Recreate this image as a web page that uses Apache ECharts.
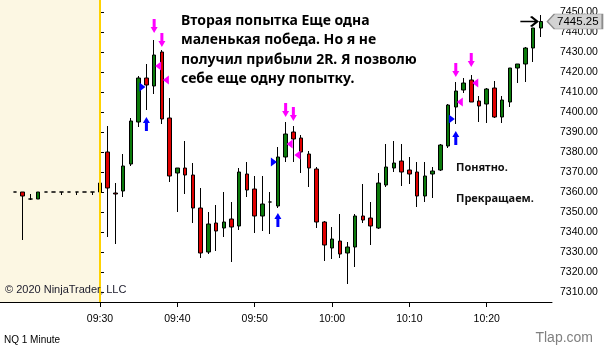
<!DOCTYPE html>
<html>
<head>
<meta charset="utf-8">
<title>NQ 1 Minute</title>
<script src="https://cdn.jsdelivr.net/npm/echarts@6/dist/echarts.min.js"></script>
<style>
    html, body { margin: 0; padding: 0; background: #fff; }
    #chart { width: 606px; height: 350px; }
</style>
</head>
<body>
<div id="chart"></div>
<script>
// 1 minute bars, NQ
const times = [
    '09:19', '09:20', '09:21', '09:22', '09:23', '09:24', '09:25', '09:26', '09:27', '09:28', '09:29',
    '09:30', '09:31', '09:32', '09:33', '09:34', '09:35', '09:36', '09:37', '09:38', '09:39',
    '09:40', '09:41', '09:42', '09:43', '09:44', '09:45', '09:46', '09:47', '09:48', '09:49',
    '09:50', '09:51', '09:52', '09:53', '09:54', '09:55', '09:56', '09:57', '09:58', '09:59',
    '10:00', '10:01', '10:02', '10:03', '10:04', '10:05', '10:06', '10:07', '10:08', '10:09',
    '10:10', '10:11', '10:12', '10:13', '10:14', '10:15', '10:16', '10:17', '10:18', '10:19',
    '10:20', '10:21', '10:22', '10:23', '10:24', '10:25', '10:26', '10:27'
];
const opens = [
    7360, 7360, 7356.5, 7356.5, 7360, 7360, 7360, 7360, 7360, 7360, 7360,
    7360, 7380, 7359.5, 7360.5, 7374, 7395, 7417, 7413, 7430, 7397,
    7369.5, 7372, 7368.5, 7352, 7330, 7344.5, 7342, 7346.5, 7343, 7369,
    7361.5, 7348, 7355, 7353, 7377.5, 7390, 7387, 7379, 7371.5, 7345,
    7332, 7335.5, 7329.5, 7332.5, 7348, 7347, 7342, 7363.5, 7372, 7375.5,
    7371, 7370, 7358, 7369, 7371, 7383, 7402.5, 7411, 7416, 7405.5,
    7404, 7412, 7397.5, 7405, 7422, 7424, 7432, 7442
];
const closes = [
    7360, 7358, 7356.5, 7360, 7360, 7360, 7360, 7360, 7360, 7360, 7360,
    7364.5, 7362, 7359, 7373, 7395.5, 7417, 7413.5, 7428.5, 7396.5, 7368,
    7372, 7368.5, 7352, 7329.5, 7344, 7340.5, 7345, 7342.5, 7370, 7361,
    7348, 7354, 7355, 7377.5, 7389, 7386.5, 7380, 7372, 7345, 7333.5,
    7336.5, 7329, 7332.5, 7348, 7346, 7343, 7364.5, 7372.5, 7374.5, 7370,
    7369, 7358, 7368, 7370.5, 7383.5, 7403.5, 7410.5, 7414.5, 7405, 7403,
    7411.5, 7397.5, 7406, 7422, 7424, 7432, 7442, 7445.25
];
const lows = [
    7360, 7336, 7356, 7356.5, 7360, 7360, 7358.5, 7360, 7358.5, 7360, 7358.5,
    7359.5, 7337.5, 7334, 7357.5, 7373, 7392.5, 7401, 7409, 7394, 7365,
    7350, 7359, 7344.5, 7327, 7329, 7330.5, 7337.5, 7325, 7341, 7357.5,
    7339.5, 7340.5, 7339, 7352, 7375, 7375, 7369.5, 7362.5, 7342, 7325.5,
    7326.5, 7327, 7314, 7322.5, 7344.5, 7333.5, 7341.5, 7362.5, 7370, 7363,
    7364, 7352.5, 7355, 7357, 7370.5, 7382, 7394, 7409.5, 7405, 7395,
    7394.5, 7397, 7394.5, 7402.5, 7414.5, 7415, 7425, 7437.5
];
const highs = [
    7360, 7360, 7359, 7360, 7360, 7360, 7360, 7360, 7360, 7360, 7360,
    7372, 7393, 7364.5, 7379, 7397, 7418, 7424, 7436, 7431, 7407,
    7372, 7385.5, 7374.5, 7362, 7350, 7353.5, 7360, 7355, 7372, 7375,
    7368, 7368, 7360, 7382.5, 7395, 7393, 7388.5, 7380.5, 7372.5, 7345.5,
    7342.5, 7349, 7335, 7349, 7364, 7355, 7369.5, 7384, 7385.5, 7384,
    7377.5, 7375, 7375, 7372.5, 7384, 7404, 7415, 7417, 7418.5, 7408,
    7412, 7415.5, 7408, 7422, 7424, 7432.5, 7442, 7448.5
];
const lastPrice = 7445.25;

const xTickLabels = ['09:30', '09:40', '09:50', '10:00', '10:10', '10:20'];
const yTicks = [7310, 7320, 7330, 7340, 7350, 7360, 7370, 7380, 7390, 7400, 7410, 7420, 7430, 7440, 7450];

// сделки: сигналы и исполнения
const entrySignalTimes = ['09:36', '09:53', '10:16'];
const entrySignalPrices = [7394, 7346, 7387];
const entryFillTimes = ['09:36', '09:53', '10:16'];
const entryFillPrices = [7412.5, 7375, 7396.5];
const exitSignalTimes = ['09:37', '09:38', '09:54', '09:55', '10:16', '10:18'];
const exitSignalPrices = [7443, 7436, 7401, 7399, 7421, 7426];
const exitFillTimes = ['09:37', '09:38', '09:54', '09:55', '10:16', '10:18'];
const exitFillPrices = [7423, 7416, 7384, 7378.5, 7405, 7414.5];

const noteLines = [
    'Вторая попытка Еще одна',
    'маленькая победа. Но я не',
    'получил прибыли 2R. Я позволю',
    'себе еще одну попытку.'
];

// minutes from the 09:30 open
function toMin(t) {
    const p = t.split(':');
    return +p[0] * 60 + +p[1] - 570;
}
function toTime(m) {
    const total = 570 + m;
    const h = Math.floor(total / 60), mm = total % 60;
    return String(h).padStart(2, '0') + ':' + String(mm).padStart(2, '0');
}

const candles = times.map((t, i) => [toMin(t), opens[i], closes[i], lows[i], highs[i]]);
const pairs = (ts, ps) => ts.map((t, i) => [toMin(t), ps[i]]);

const downArrow = 'path://M2,0 L5,0 L5,8 L7,8 L3.5,14 L0,8 L2,8 Z';
const upArrow = 'path://M3.5,0 L7,6 L5,6 L5,14 L2,14 L2,6 L0,6 Z';
const labelFont = '"Liberation Sans", Arial, sans-serif';

const chart = echarts.init(document.getElementById('chart'));

const option = {
    animation: false,
    backgroundColor: '#fff',
    grid: { left: 0, right: 54, top: 0, bottom: 48 },
    xAxis: {
        type: 'value',
        min: -12.93,
        max: 58.44,
        splitLine: { show: false },
        axisLine: { lineStyle: { color: '#000', width: 1 } },
        axisTick: { customValues: xTickLabels.map(toMin), length: 5, lineStyle: { color: '#000' } },
        axisLabel: {
            customValues: xTickLabels.map(toMin),
            formatter: v => toTime(v),
            color: '#000',
            fontFamily: labelFont,
            fontSize: 10.5,
            margin: 12
        }
    },
    yAxis: {
        type: 'value',
        position: 'right',
        min: 7305,
        max: 7456,
        splitLine: { show: false },
        axisLine: { show: true, lineStyle: { color: '#000', width: 1 } },
        axisTick: { show: true, customValues: yTicks, length: 4, lineStyle: { color: '#000' } },
        axisLabel: {
            customValues: yTicks,
            formatter: v => v.toFixed(2),
            color: '#000',
            fontFamily: labelFont,
            fontSize: 10.5,
            margin: 8
        }
    },
    series: [
        {
            // premarket background + session open line
            type: 'line',
            data: [],
            z: 1,
            silent: true,
            markArea: {
                silent: true,
                itemStyle: { color: '#FCF7E3' },
                data: [[{ xAxis: -12.93 }, { xAxis: 0 }]]
            },
            markLine: {
                silent: true,
                symbol: 'none',
                label: { show: false },
                lineStyle: { color: '#FFD200', width: 2, type: 'solid' },
                data: [{ xAxis: 0 }]
            }
        },
        {
            type: 'candlestick',
            z: 3,
            data: candles,
            encode: { x: 0, y: [1, 2, 3, 4] },
            barWidth: 4,
            itemStyle: {
                color: '#0B7A0B',
                color0: '#E00000',
                borderColor: '#000',
                borderColor0: '#000',
                borderColorDoji: '#000',
                borderWidth: 1
            },
            markPoint: {
                silent: true,
                data: [
                    {
                        // price marker on the axis
                        coord: [toMin(times[times.length - 1]), lastPrice],
                        symbol: 'path://M0,7 L7,0 L55,0 L55,14 L7,14 Z',
                        symbolSize: [55, 15],
                        symbolOffset: [34, 0],
                        itemStyle: { color: '#D3D3D3', borderColor: '#8c8c8c', borderWidth: 1 },
                        label: {
                            show: true,
                            position: 'inside',
                            offset: [3, 0],
                            formatter: lastPrice.toFixed(2),
                            color: '#000',
                            fontFamily: labelFont,
                            fontSize: 11.5
                        }
                    },
                    {
                        coord: [toMin(times[times.length - 1]), lastPrice],
                        symbol: 'path://M0,5 L16,5 M10,0 L16,5 L10,10',
                        symbolSize: [17, 10],
                        symbolOffset: [-12, 0],
                        itemStyle: { color: 'none', borderColor: '#000', borderWidth: 2 },
                        label: { show: false }
                    }
                ]
            }
        },
        {
            type: 'scatter', z: 4, silent: true,
            data: pairs(entrySignalTimes, entrySignalPrices),
            symbol: upArrow, symbolSize: [7, 14],
            itemStyle: { color: '#0000FF', opacity: 1 }
        },
        {
            type: 'scatter', z: 4, silent: true,
            data: pairs(entryFillTimes, entryFillPrices),
            symbol: 'triangle', symbolSize: [9, 6], symbolRotate: -90, symbolOffset: [-4, 0],
            itemStyle: { color: '#0000FF', opacity: 1 }
        },
        {
            type: 'scatter', z: 4, silent: true,
            data: pairs(exitSignalTimes, exitSignalPrices),
            symbol: downArrow, symbolSize: [7, 14],
            itemStyle: { color: '#FF00FF', opacity: 1 }
        },
        {
            type: 'scatter', z: 4, silent: true,
            data: pairs(exitFillTimes, exitFillPrices),
            symbol: 'triangle', symbolSize: [9, 6], symbolRotate: 90, symbolOffset: [4, 0],
            itemStyle: { color: '#FF00FF', opacity: 1 }
        }
    ],
    graphic: [
        {
            type: 'group',
            left: 181,
            top: 14,
            z: 10,
            children: noteLines.map((s, i) => ({
                type: 'text',
                y: i * 19.5,
                style: { text: s, fill: '#000', font: 'bold 14px "Noto Sans", sans-serif' }
            }))
        },
        { type: 'text', z: 10, left: 456, top: 162, style: { text: 'Понятно.', fill: '#111', font: 'bold 11px "Noto Sans", sans-serif' } },
        { type: 'text', z: 10, left: 456, top: 193, style: { text: 'Прекращаем.', fill: '#111', font: 'bold 11px "Noto Sans", sans-serif' } },
        { type: 'text', z: 10, left: 5, top: 284, style: { text: '© 2020 NinjaTrader, LLC', fill: '#1b1b2b', font: '11px ' + labelFont } },
        { type: 'text', z: 10, left: 4, top: 335, style: { text: 'NQ 1 Minute', fill: '#000', font: '10px ' + labelFont } },
        { type: 'text', z: 10, right: 13, top: 331, style: { text: 'Tlap.com', fill: '#808080', font: '14px ' + labelFont } }
    ]
};

chart.setOption(option);
</script>
</body>
</html>
